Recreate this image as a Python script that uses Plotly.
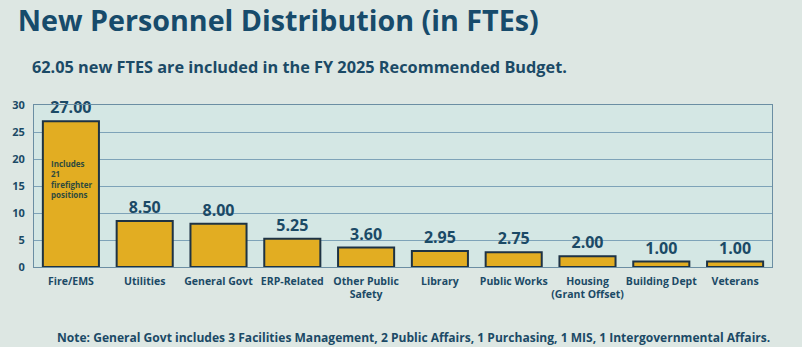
import plotly.graph_objects as go

categories = ["Fire/EMS", "Utilities", "General Govt", "ERP-Related", "Other Public<br>Safety",
              "Library", "Public Works", "Housing<br>(Grant Offset)", "Building Dept", "Veterans"]
values = [27.00, 8.50, 8.00, 5.25, 3.60, 2.95, 2.75, 2.00, 1.00, 1.00]
value_labels = [f"{v:.2f}" for v in values]
y_ticks = [0, 5, 10, 15, 20, 25, 30]

TXT = "#1b4a66"
FONT = "Open Sans"

fig = go.Figure()
fig.add_trace(go.Bar(
    x=categories, y=values,
    marker=dict(color="#e2ad22", line=dict(color="#1e3344", width=2)),
    text=value_labels, textposition="outside", cliponaxis=False,
    textfont=dict(family=FONT, size=16, color=TXT, weight="bold"),
    width=0.76,
))

fig.add_annotation(
    x=0, y=20.5, xref="x", yref="y", xshift=-22, xanchor="left", yanchor="top",
    text="Includes<br>21<br>firefighter<br>positions", align="left", showarrow=False,
    font=dict(family=FONT, size=8, color="#2e4a3e", weight="bold"),
)

fig.update_layout(
    width=802, height=347,
    margin=dict(l=32, r=30, t=105, b=80),
    paper_bgcolor="#dde7e3", plot_bgcolor="#d4e7e4",
    showlegend=False,
    title=dict(text="New Personnel Distribution (in FTEs)", x=0.022, xanchor="left", y=0.94, yanchor="middle",
               font=dict(family=FONT, size=28.7, color="#174b6b", weight="bold")),
    bargap=0.24,
)
fig.add_annotation(xref="paper", yref="paper", x=-0.005, y=1.0, yshift=38, xanchor="left", yanchor="middle",
                   text="62.05 new FTES are included in the FY 2025 Recommended Budget.", showarrow=False,
                   font=dict(family=FONT, size=16.3, color=TXT, weight="bold"))
fig.add_annotation(xref="paper", yref="paper", x=1.0, y=0, yshift=-70, xanchor="right", yanchor="middle",
                   text="Note: General Govt includes 3 Facilities Management, 2 Public Affairs, 1 Purchasing, 1 MIS, 1 Intergovernmental Affairs.",
                   showarrow=False, font=dict(family=FONT, size=12.05, color=TXT, weight="bold"))

fig.update_yaxes(range=[0, 30], tickvals=y_ticks, showgrid=True, gridcolor="#7ea3b8", gridwidth=1,
                 showline=True, linecolor="#6b8ea3", linewidth=1, mirror=True, zeroline=False,
                 ticks="", tickfont=dict(family=FONT, size=11, color=TXT, weight="bold"), ticklabelstandoff=6)
fig.update_xaxes(showline=True, linecolor="#6b8ea3", mirror=True, ticks="", tickangle=0,
                 tickfont=dict(family=FONT, size=10.5, color=TXT, weight="bold"), ticklabelstandoff=4)

fig.write_html("out.html")
